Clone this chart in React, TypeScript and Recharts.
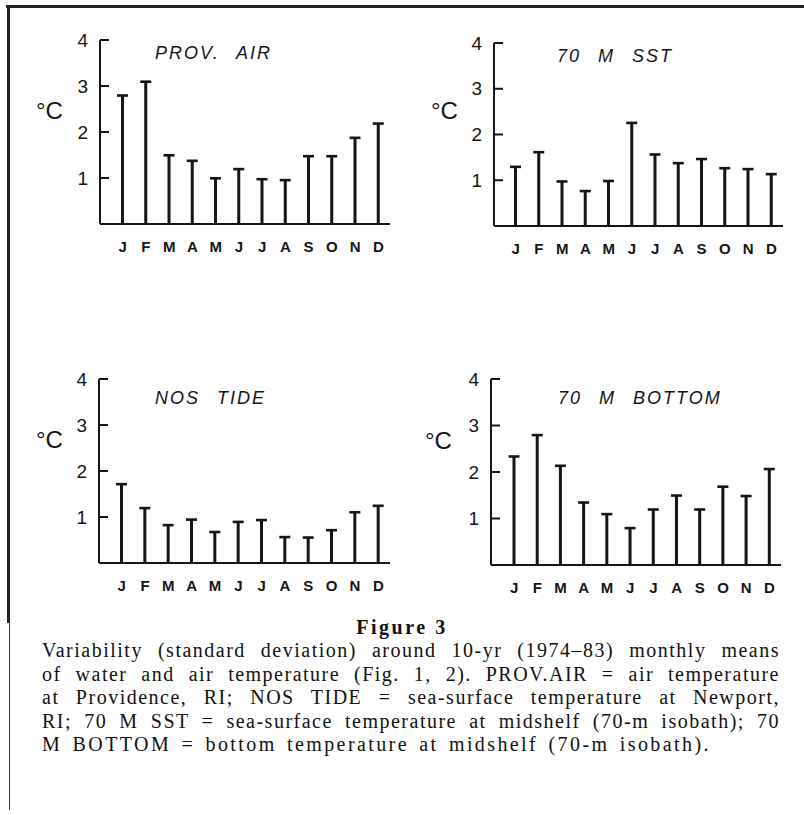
import React from 'react';
import { BarChart, Bar, XAxis, YAxis } from 'recharts';

// month initials along every x axis
const MONTHS = ['J', 'F', 'M', 'A', 'M', 'J', 'J', 'A', 'S', 'O', 'N', 'D'];
const Y_TICKS = [1, 2, 3, 4];

// standard deviation (°C) of monthly means
const PROV_AIR = [2.8, 3.1, 1.5, 1.38, 1.0, 1.2, 0.98, 0.96, 1.48, 1.48, 1.88, 2.19];
const SST_70M = [1.3, 1.62, 0.98, 0.77, 0.99, 2.26, 1.57, 1.38, 1.47, 1.27, 1.25, 1.14];
const NOS_TIDE = [1.72, 1.2, 0.83, 0.95, 0.68, 0.9, 0.94, 0.57, 0.56, 0.72, 1.11, 1.25];
const BOTTOM_70M = [2.34, 2.8, 2.14, 1.35, 1.1, 0.8, 1.2, 1.5, 1.2, 1.69, 1.49, 2.07];

const CAPTION_LINES = [
  'Variability (standard deviation) around 10-yr (1974–83) monthly means',
  'of water and air temperature (Fig. 1, 2). PROV.AIR = air temperature',
  'at Providence, RI; NOS TIDE = sea-surface temperature at Newport,',
  'RI; 70 M SST = sea-surface temperature at midshelf (70-m isobath); 70',
];
const CAPTION_LAST = 'M BOTTOM = bottom temperature at midshelf (70-m isobath).';

const INK = '#151515';
const SANS = '"Liberation Sans", Arial, sans-serif';
const SERIF = '"Liberation Serif", "Times New Roman", serif';

const toRows = (values: number[]) => values.map((v, i) => ({ idx: i, month: MONTHS[i], value: v }));

// axisX/top/baseline/right are where the plot box sits on the page
const PANELS = [
  { key: 'air', title: 'PROV. AIR', data: toRows(PROV_AIR), axisX: 100, top: 40, baseline: 224, right: 390, pad: 11, titleDx: 55, titleDy: 3, unitX: 36, unitY: 98 },
  { key: 'sst', title: '70 M SST', data: toRows(SST_70M), axisX: 494, top: 43, baseline: 226, right: 783, pad: 10, titleDx: 63, titleDy: 3, unitX: 431, unitY: 98 },
  { key: 'tide', title: 'NOS TIDE', data: toRows(NOS_TIDE), axisX: 99, top: 379, baseline: 563, right: 390, pad: 11, titleDx: 56, titleDy: 9, unitX: 36, unitY: 427 },
  { key: 'bottom', title: '70 M BOTTOM', data: toRows(BOTTOM_70M), axisX: 491, top: 379, baseline: 565, right: 781, pad: 11.5, titleDx: 67, titleDy: 9, unitX: 425, unitY: 428 },
];

const M_TOP = 30;
const M_LEFT = 40;
const M_RIGHT = 10;
const M_BOTTOM = 10;
const Y_W = 60;
const X_H = 40;

const StemShape = (props: any) => {
  const { x, y, width, height } = props;
  if (height == null || height <= 0) return null;
  const cx = x + width / 2;
  return (
    <g>
      <rect x={cx - 1.5} y={y} width={3} height={height} fill={INK} />
      <rect x={cx - 5.5} y={y - 1} width={11} height={2.6} fill={INK} />
    </g>
  );
};

// label on the left, tick mark pointing into the plot
const InnerTick = (props: any) => {
  const { x, y, payload } = props;
  return (
    <g>
      <line x1={x} x2={x + 9} y1={y} y2={y} stroke={INK} strokeWidth={2} />
      <text x={x - 12} y={y + 6.5} textAnchor="end" fontSize={19} fontFamily={SANS} fill={INK}>
        {payload.value}
      </text>
    </g>
  );
};

const Panel = ({ p }: { p: (typeof PANELS)[number] }) => {
  const width = p.right - p.axisX + M_LEFT + Y_W + M_RIGHT;
  const height = p.baseline - p.top + M_TOP + M_BOTTOM + X_H;
  return (
    <>
      <div style={{ position: 'absolute', left: p.axisX - M_LEFT - Y_W, top: p.top - M_TOP }}>
        <BarChart width={width} height={height} data={p.data}
          margin={{ top: M_TOP, left: M_LEFT, right: M_RIGHT, bottom: M_BOTTOM }} barCategoryGap={0}>
          <XAxis dataKey="idx" type="category" interval={0} tickLine={false} tickSize={0} tickMargin={17}
            height={X_H} padding={{ left: p.pad, right: 0 }}
            axisLine={{ stroke: INK, strokeWidth: 2 }}
            tickFormatter={(i: number) => MONTHS[i]}
            tick={{ fill: INK, fontSize: 15, fontWeight: 'bold', fontFamily: SANS }} />
          <YAxis type="number" domain={[0, 4]} ticks={Y_TICKS} width={Y_W} tickLine={false}
            tickSize={0} tickMargin={0} axisLine={{ stroke: INK, strokeWidth: 2 }} tick={<InnerTick />} />
          <Bar dataKey="value" shape={<StemShape />} isAnimationActive={false} />
        </BarChart>
      </div>
      <div style={{
        position: 'absolute', left: p.axisX + p.titleDx, top: p.top + p.titleDy, fontFamily: SANS,
        fontStyle: 'italic', fontSize: 18, letterSpacing: 2, wordSpacing: 10, color: INK, whiteSpace: 'nowrap',
      }}>
        {p.title}
      </div>
      <div style={{ position: 'absolute', left: p.unitX, top: p.unitY, fontFamily: SANS, fontSize: 24, color: INK, lineHeight: '26px' }}>
        °C
      </div>
    </>
  );
};

export default function App() {
  return (
    <div style={{ position: 'absolute', left: 0, top: 0, width: 804, height: 815, background: '#fff', overflow: 'hidden' }}>
      {/* frame lines of the page scan */}
      <div style={{ position: 'absolute', left: 6, top: 5, width: 798, height: 3, background: '#222' }} />
      <div style={{ position: 'absolute', left: 7, top: 5, width: 3, height: 618, background: '#222' }} />
      <div style={{ position: 'absolute', left: 8.5, top: 622, width: 1.5, height: 188, background: '#333' }} />

      {PANELS.map((p) => <Panel key={p.key} p={p} />)}

      <div style={{ position: 'absolute', left: 0, width: 804, top: 616, textAlign: 'center', fontFamily: SERIF, fontWeight: 'bold', fontSize: 20, letterSpacing: 2.5, color: '#111' }}>
        Figure 3
      </div>
      <div style={{ position: 'absolute', left: 42, top: 639, width: 738, fontFamily: SERIF, fontSize: 20, lineHeight: '23.5px', letterSpacing: 1.5, color: '#111' }}>
        {CAPTION_LINES.map((line) => (
          <div key={line} style={{ textAlign: 'justify', textAlignLast: 'justify', whiteSpace: 'nowrap' }}>{line}</div>
        ))}
        <div style={{ whiteSpace: 'nowrap', letterSpacing: 2.4, wordSpacing: 3 }}>{CAPTION_LAST}</div>
      </div>
    </div>
  );
}
